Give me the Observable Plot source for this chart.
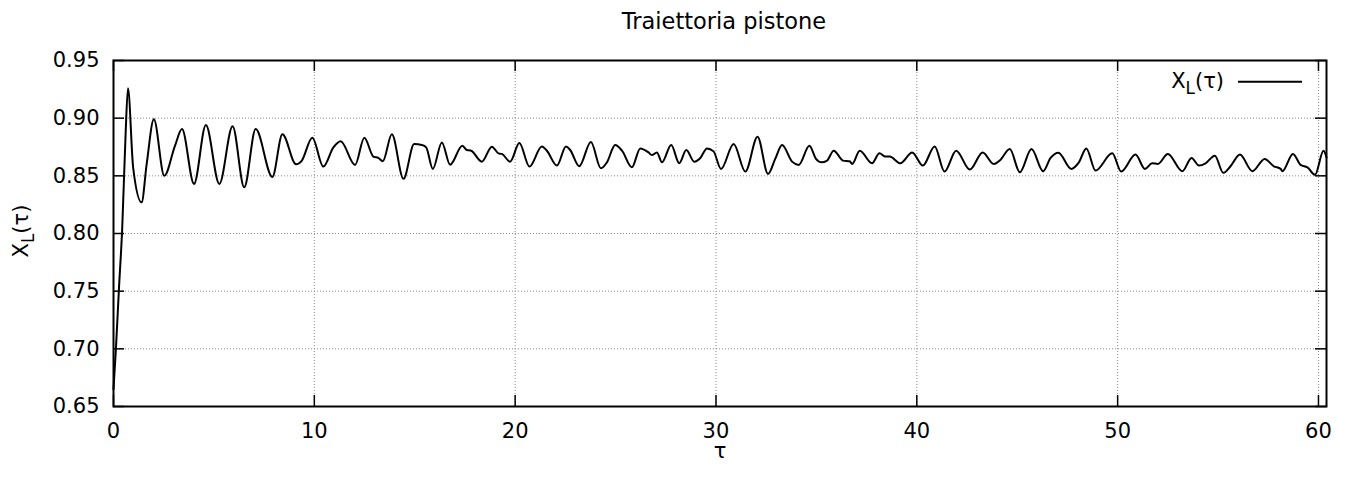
<!DOCTYPE html>
<html>
<head>
<meta charset="utf-8">
<script src="https://cdn.jsdelivr.net/npm/d3@7"></script>
<script src="https://cdn.jsdelivr.net/npm/@observablehq/plot@0.6"></script>
<style>
  body { margin: 0; background: #fff; }
  svg { display: block; }
</style>
</head>
<body>
<div id="chart"></div>
<script>
// Piston trajectory X_L(τ): sampled turning points of the simulated signal
const tau = [
  0, 0.12, 0.28, 0.43, 0.60, 0.72, 0.98, 1.40, 1.65, 2.01,
  2.53, 3.06, 3.41, 4.01, 4.60, 5.27, 5.93, 6.51, 7.08, 7.91,
  8.41, 9.09, 9.37, 9.90, 10.45, 10.95, 11.31, 12.03, 12.49, 12.94,
  13.19, 13.41, 13.86, 14.44, 14.97, 15.35, 15.57, 15.90, 16.35, 16.76,
  17.37, 17.59, 17.81, 18.34, 18.84, 19.17, 19.34, 19.75, 20.21, 20.71,
  21.33, 21.58, 22.08, 22.53, 22.74, 23.19, 23.77, 24.27, 24.57, 24.98,
  25.32, 25.81, 26.23, 26.64, 26.81, 27.06, 27.31, 27.77, 28.17, 28.52,
  28.92, 29.22, 29.55, 29.88, 30.25, 30.88, 31.46, 32.07, 32.59, 32.95,
  33.29, 33.79, 34.12, 34.65, 34.98, 35.25, 35.53, 35.86, 36.33, 36.66,
  36.78, 37.16, 37.77, 38.14, 38.44, 38.65, 39.18, 39.77, 40.30, 40.89,
  41.38, 41.96, 42.64, 43.28, 43.83, 44.16, 44.63, 45.13, 45.71, 46.29,
  46.66, 47.05, 47.69, 48.07, 48.44, 48.90, 49.73, 50.18, 50.89, 51.36,
  51.72, 52.00, 52.50, 53.22, 53.68, 54.05, 54.38, 54.84, 55.26, 55.62,
  56.09, 56.71, 57.32, 57.78, 58.12, 58.20, 58.73, 59.11, 59.45, 59.83,
  60.25, 60.40
];
const xl = [
  0.665, 0.700, 0.755, 0.803, 0.885, 0.926, 0.857, 0.827, 0.860, 0.899,
  0.850, 0.876, 0.8905, 0.843, 0.894, 0.843, 0.893, 0.840, 0.8905, 0.849,
  0.886, 0.860, 0.863, 0.883, 0.858, 0.8747, 0.880, 0.8595, 0.883, 0.8667,
  0.8655, 0.8626, 0.886, 0.8474, 0.8776, 0.8767, 0.8747, 0.856, 0.879, 0.8597,
  0.876, 0.8724, 0.8718, 0.8623, 0.8753, 0.8695, 0.869, 0.8623, 0.8784, 0.858,
  0.8755, 0.8718, 0.8589, 0.8755, 0.8724, 0.8583, 0.8793, 0.8566, 0.8617, 0.8767,
  0.8718, 0.8574, 0.8738, 0.8703, 0.868, 0.8703, 0.8617, 0.8767, 0.8609, 0.8724,
  0.8623, 0.8655, 0.8738, 0.8712, 0.856, 0.8776, 0.8537, 0.8839, 0.8517, 0.8647,
  0.8767, 0.8623, 0.8595, 0.876, 0.8647, 0.8617, 0.8632, 0.8718, 0.8632, 0.8626,
  0.8603, 0.8718, 0.8609, 0.8695, 0.8667, 0.8667, 0.8609, 0.8703, 0.8589, 0.8755,
  0.8537, 0.8718, 0.8554, 0.8703, 0.8603, 0.8638, 0.8733, 0.8531, 0.8733, 0.854,
  0.8655, 0.870, 0.856, 0.8617, 0.8738, 0.8546, 0.8695, 0.8537, 0.8684, 0.856,
  0.8609, 0.8603, 0.869, 0.854, 0.8655, 0.8589, 0.8609, 0.8675, 0.8526, 0.8583,
  0.8684, 0.854, 0.8647, 0.8583, 0.856, 0.854, 0.869, 0.8595, 0.8574, 0.8509,
  0.8718, 0.866
];

const xTicks = [0, 10, 20, 30, 40, 50, 60];
const yTicks = [0.65, 0.70, 0.75, 0.80, 0.85, 0.90, 0.95];
const yTickLabels = ["0.65", "0.70", "0.75", "0.80", "0.85", "0.90", "0.95"];
const xDomain = [0, 60.4];
const yDomain = [0.65, 0.95];

const title = "Traiettoria pistone";
const xLabel = "τ";
const seriesName = { base: "X", sub: "L", rest: "(τ)" };

// Layout
const W = 1348, H = 483;
const mL = 113, mR = 22, mT = 60, mB = 77;
const plotW = W - mL - mR, plotH = H - mT - mB;
const tickLen = 11;
const font = "'DejaVu Sans', sans-serif";
const fs = 21;

const data = tau.map((t, i) => ({ t, v: xl[i] }));
const gridStyle = { stroke: "#8a8a8a", strokeOpacity: 1, strokeWidth: 1, strokeDasharray: "1,2" };
const tickStyle = { stroke: "#000", strokeWidth: 1.5 };

const chart = Plot.plot({
  width: W,
  height: H,
  marginLeft: mL,
  marginRight: mR,
  marginTop: mT,
  marginBottom: mB,
  style: { fontFamily: font, fontSize: fs + "px", color: "#000", background: "#fff" },
  x: { domain: xDomain },
  y: { domain: yDomain },
  marks: [
    Plot.gridX(xTicks.slice(1), gridStyle),
    Plot.gridY(yTicks.slice(1, -1), gridStyle),
    Plot.axisX(xTicks, { tickSize: 0, tickPadding: 17, fontSize: fs, label: null }),
    Plot.axisY(yTicks, {
      tickSize: 0, tickPadding: 14, fontSize: fs, label: null,
      tickFormat: (d) => yTickLabels[yTicks.indexOf(d)]
    }),
    // inward ticks on all four sides, gnuplot style
    Plot.tickY(yTicks, { y: (d) => d, insetRight: plotW - tickLen, ...tickStyle }),
    Plot.tickY(yTicks, { y: (d) => d, insetLeft: plotW - tickLen, ...tickStyle }),
    Plot.tickX(xTicks, { x: (d) => d, insetTop: plotH - tickLen, ...tickStyle }),
    Plot.tickX(xTicks, { x: (d) => d, insetBottom: plotH - tickLen, ...tickStyle }),
    Plot.line(data, { x: "t", y: "v", curve: "monotone-x", stroke: "#000", strokeWidth: 2 }),
    Plot.frame({ stroke: "#000", strokeWidth: 2 }),
    Plot.text([title], { frameAnchor: "top", lineAnchor: "bottom", dy: -32, dx: 4, fontSize: 22.5, fill: "#000" }),
    Plot.text([xLabel], { frameAnchor: "bottom", lineAnchor: "bottom", dy: 51, fontSize: fs, fill: "#000" })
  ]
});

document.getElementById("chart").append(chart);

// Labels with a subscript: y-axis title and the key in the top-right corner
const svg = d3.select(chart);

function writeLabel(textSel) {
  textSel.append("tspan").text(seriesName.base);
  textSel.append("tspan").attr("font-size", fs * 0.8).attr("dy", 6).text(seriesName.sub);
  textSel.append("tspan").attr("dy", -6).text(seriesName.rest);
}

const yTitle = svg.append("text")
  .attr("font-family", font)
  .attr("font-size", fs)
  .attr("fill", "#000")
  .attr("text-anchor", "middle")
  .attr("transform", `translate(28.3,${mT + plotH / 2 - 2}) rotate(-90)`);
writeLabel(yTitle);

const keyY = mT + 21.7;
const key = svg.append("g").attr("font-family", font).attr("font-size", fs);
const keyText = key.append("text")
  .attr("x", W - mR - 102)
  .attr("y", keyY + 6.6)
  .attr("text-anchor", "end")
  .attr("fill", "#000");
writeLabel(keyText);
key.append("line")
  .attr("x1", W - mR - 88)
  .attr("x2", W - mR - 24)
  .attr("y1", keyY)
  .attr("y2", keyY)
  .attr("stroke", "#000")
  .attr("stroke-width", 2);
</script>
</body>
</html>
